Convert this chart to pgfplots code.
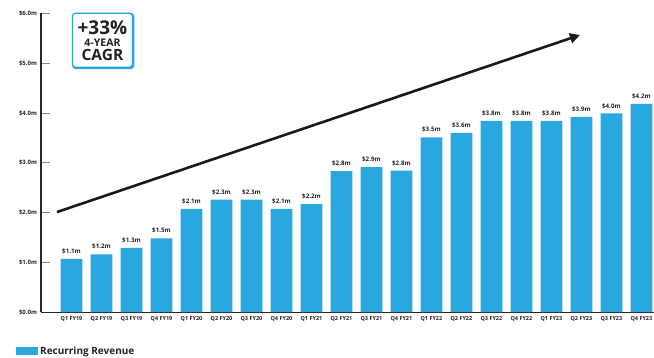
\documentclass[border=0pt]{standalone}
\usepackage{pgfplots}
\pgfplotsset{compat=1.18}
\usepackage{fontspec}
\setmainfont{Open Sans}
\usetikzlibrary{arrows.meta}
\definecolor{barblue}{HTML}{29A8E0}
\definecolor{txt}{HTML}{222222}
\begin{document}
\begin{tikzpicture}
\begin{axis}[
  name=ax,
  scale only axis,
  width=613pt, height=298.7pt,
  xmin=-1.017, xmax=19.42,
  ymin=0, ymax=6,
  axis x line=bottom, axis y line=left,
  axis line style={-, line width=1.1pt, color=black!85},
  clip=false,
  /pgf/number format/assume math mode=true,
  ytick={0,1,2,3,4,5,6},
  yticklabels={\$0.0m,\$1.0m,\$2.0m,\$3.0m,\$4.0m,\$5.0m,\$6.0m},
  yticklabel style={font=\bfseries\fontsize{6}{7}\selectfont, text=txt, xshift=-0.5pt},
  tick align=inside,
  major tick length=9pt,
  ytick style={color=black!45, line width=0.6pt},
  xtick={0,...,19},
  xtick style={draw=none},
  xticklabels={Q1 FY19,Q2 FY19,Q3 FY19,Q4 FY19,Q1 FY20,Q2 FY20,Q3 FY20,Q4 FY20,Q1 FY21,Q2 FY21,Q3 FY21,Q4 FY21,Q1 FY22,Q2 FY22,Q3 FY22,Q4 FY22,Q1 FY23,Q2 FY23,Q3 FY23,Q4 FY23},
  xticklabel style={font=\bfseries\fontsize{5.5}{6}\selectfont, text=txt, yshift=-1pt},
  legend style={at={(axis cs:-1.85,-0.783)}, anchor=west, draw=none, fill=none,
    font=\bfseries\fontsize{10}{11}\selectfont, text=txt, inner sep=0pt},
  legend cell align=left,
]
\addplot[ybar, bar width=21.7pt, fill=barblue, draw=none,
  nodes near coords={\$\pgfmathprintnumber[fixed,fixed zerofill,precision=1]{\pgfplotspointmeta}m},
  every node near coord/.append style={font=\bfseries\fontsize{6.2}{7}\selectfont, text=txt, anchor=south, yshift=1.5pt},
  legend image code/.code={\fill[barblue] (0pt,-4.2pt) rectangle (22pt,4.2pt);}
] coordinates {
(0,1.07) (1,1.16) (2,1.29) (3,1.48) (4,2.07) (5,2.26) (6,2.26) (7,2.07)
(8,2.17) (9,2.83) (10,2.91) (11,2.84) (12,3.51) (13,3.60) (14,3.84) (15,3.84)
(16,3.84) (17,3.92) (18,3.99) (19,4.18)
};
\addlegendentry{Recurring Revenue}
\draw[line width=2.6pt, black!90, -{Triangle[length=10pt,width=10pt]}] (axis cs:-0.483,2.009) -- (axis cs:16.95,5.564);
\node[draw=barblue, line width=2.4pt, rounded corners=3pt, minimum width=60pt, minimum height=54pt, xshift=0.8pt, yshift=-0.8pt] at (axis cs:1.033,5.46) {};
\node[draw=barblue, fill=white, line width=1.3pt, rounded corners=3pt, minimum width=60pt, minimum height=54pt, inner sep=0pt] (box) at (axis cs:1.033,5.46) {};
\node[anchor=base, inner sep=0pt, text=txt, font=\bfseries\fontsize{19}{19}\selectfont] at ([yshift=5.9pt]box.center) {+33\%};
\node[anchor=base, inner sep=0pt, text=txt, font=\bfseries\fontsize{10.5}{11}\selectfont] at ([yshift=-5.8pt]box.center) {4-YEAR};
\node[anchor=base, inner sep=0pt, text=txt, font=\bfseries\fontsize{15.5}{16}\selectfont] at ([yshift=-20.3pt]box.center) {CAGR};
\coordinate (BL) at (axis cs:-2.383,-0.904);
\coordinate (TR) at (axis cs:19.42,6.268);
\end{axis}
\pgfresetboundingbox
\useasboundingbox (BL) rectangle (TR);
\end{tikzpicture}
\end{document}
